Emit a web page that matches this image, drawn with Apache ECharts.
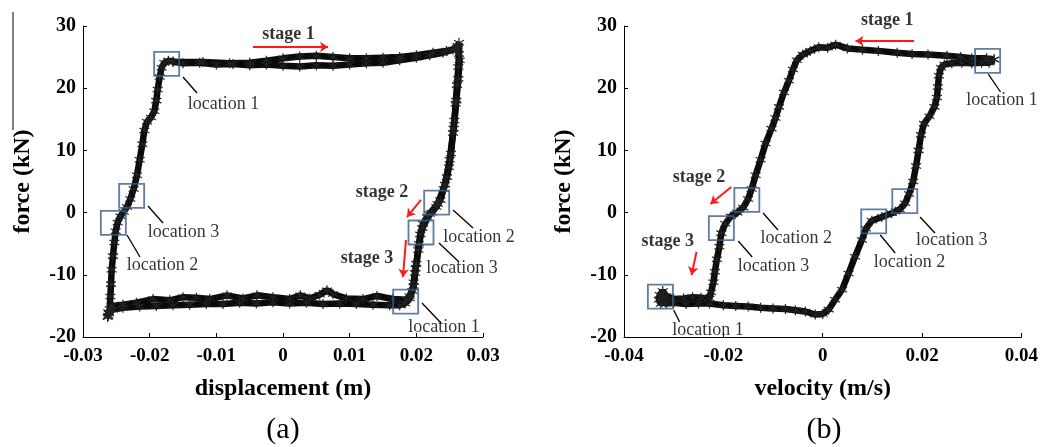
<!DOCTYPE html>
<html><head><meta charset="utf-8">
<script src="https://cdn.jsdelivr.net/npm/echarts@6/dist/echarts.min.js"></script>
<style>html,body{margin:0;padding:0;background:#fff}#c{width:1041px;height:447px}</style>
</head><body><div id="c"></div>
<script>
// ---------- DATA ----------
// (a) force vs displacement: main pass and second pass [displacement m, force kN]
const dispLoopA = [[-0.0262,-16.6],[-0.0260,-15.5],[-0.0259,-13.5],[-0.0258,-11.5],[-0.0257,-9.2],[-0.0255,-7.0],[-0.0253,-4.8],[-0.0251,-3.0],[-0.0248,-1.6],[-0.0244,-0.6],[-0.0239,0.1],[-0.0234,0.9],[-0.0229,2.2],[-0.0224,3.8],[-0.0219,6.0],[-0.0215,8.5],[-0.0211,11.0],[-0.0208,13.2],[-0.0204,14.6],[-0.0198,15.3],[-0.0193,16.3],[-0.0190,18.0],[-0.0188,19.8],[-0.0185,21.8],[-0.0182,23.3],[-0.0178,24.1],[-0.0172,24.4],[-0.0165,24.3],
[-0.015,24.0],[-0.0125,24.1],[-0.010,23.8],[-0.0075,23.9],[-0.005,23.7],[-0.0025,23.8],[0,23.6],[0.0025,23.5],[0.005,23.7],[0.0075,23.6],[0.010,23.8],[0.0125,24.0],[0.015,24.1],[0.0175,24.5],[0.020,24.9],[0.022,25.3],[0.024,25.7],[0.0255,26.2],[0.0262,26.8],[0.0264,27.3],
[0.0264,25.5],[0.0263,23.4],[0.0261,20.5],[0.0259,17.5],[0.0257,14.8],[0.0255,12.8],[0.0252,9.5],[0.0249,7.3],[0.0246,5.7],[0.0241,3.8],[0.0236,2.0],[0.0230,0.9],[0.0223,0.0],[0.0216,-0.7],[0.0210,-1.8],[0.0206,-3.5],[0.0203,-6.0],[0.0200,-8.2],[0.0198,-9.7],[0.0196,-11.2],[0.0194,-12.6],[0.0190,-13.8],[0.0183,-14.6],[0.0175,-14.9],
[0.016,-14.9],[0.0135,-14.8],[0.011,-14.7],[0.0085,-14.6],[0.006,-14.7],[0.0035,-14.5],[0.001,-14.6],[-0.0015,-14.4],[-0.004,-14.6],[-0.0065,-14.5],[-0.009,-14.7],[-0.0115,-14.7],[-0.014,-14.8],[-0.0165,-14.9],[-0.019,-15.0],[-0.0215,-15.1],[-0.024,-15.3],[-0.0255,-15.6],[-0.0262,-16.0],[-0.0263,-16.8]];
const dispLoopB = [[-0.0165,24.2],[-0.012,24.2],[-0.008,24.0],[-0.005,24.1],[-0.0025,24.4],[0,24.8],[0.0025,25.1],[0.005,25.2],[0.0075,25.0],[0.010,24.8],[0.0125,24.8],[0.015,24.9],[0.0175,25.0],[0.020,25.3],[0.0225,25.7],[0.0245,26.0],[0.0262,26.4],
[0.0265,24.5],[0.0263,21.5],[0.0260,18.0],[0.0256,13.5],[0.0250,8.5],[0.0243,4.5],[0.0232,1.4],[0.0220,-0.2],[0.0209,-2.5],[0.0204,-5.0],[0.0199,-9.0],[0.0196,-11.8],[0.0190,-13.4],
[0.0185,-14.0],[0.0165,-13.9],[0.0141,-13.4],[0.012,-13.9],[0.0095,-13.8],[0.0075,-13.1],[0.0066,-12.5],[0.0055,-13.2],[0.0040,-13.8],[0.0026,-13.3],[0.0010,-13.9],[-0.0015,-13.6],[-0.0039,-13.3],[-0.006,-13.8],[-0.0084,-13.3],[-0.011,-13.9],[-0.013,-13.7],[-0.015,-13.6],[-0.017,-14.1],[-0.0195,-13.9],[-0.022,-14.5],[-0.024,-14.8],[-0.0257,-15.0],[-0.0261,-16.2]];
// (b) force vs velocity [velocity m/s, force kN]
const velLoop = [[0.0345,24.6],[0.033,24.8],[0.030,24.8],[0.0278,25.0],[0.025,25.2],[0.0212,25.4],[0.018,25.5],[0.015,25.7],[0.0112,26.0],[0.008,26.2],[0.005,26.4],[0.0026,27.0],[0.001,26.5],[-0.0008,26.6],[-0.0025,26.0],[-0.004,25.4],[-0.0052,24.5],[-0.006,23.0],[-0.0068,21.2],[-0.0078,19.3],[-0.0088,17.0],[-0.0095,15.2],[-0.0103,13.5],[-0.0115,11.1],[-0.0125,8.5],[-0.0135,6.0],[-0.0143,3.8],[-0.0150,2.2],[-0.0160,0.8],[-0.0172,0.0],[-0.0185,-0.6],[-0.0196,-1.8],[-0.0204,-3.3],[-0.0208,-5.5],[-0.0213,-7.5],[-0.0217,-9.5],[-0.0220,-11.2],[-0.0225,-12.8],[-0.0228,-13.8],
[-0.0245,-13.7],[-0.0262,-13.6],[-0.028,-13.8],[-0.030,-13.9],[-0.0315,-13.4],[-0.0322,-12.6],[-0.0328,-13.2],[-0.0330,-14.0],[-0.0326,-14.7],[-0.0318,-14.3],[-0.0322,-13.6],[-0.0315,-14.6],
[-0.030,-14.5],[-0.0275,-14.7],[-0.025,-14.6],[-0.0228,-14.6],[-0.020,-14.9],[-0.0175,-15.0],[-0.015,-15.1],[-0.0125,-15.3],[-0.0100,-15.4],[-0.0075,-15.5],[-0.0055,-15.7],[-0.0035,-15.9],[-0.0015,-16.4],[0.0,-16.3],[0.0012,-15.6],[0.0025,-14.0],[0.0039,-12.4],[0.0052,-9.8],[0.0065,-7.1],[0.0079,-4.4],[0.0087,-2.6],[0.0099,-1.3],[0.0119,-0.7],[0.0139,-0.1],[0.0155,0.5],[0.0166,1.5],[0.0174,3.0],[0.0182,5.0],[0.0188,7.5],[0.0193,10.0],[0.0198,12.5],[0.0204,14.3],[0.0215,15.5],[0.0225,17.0],[0.0230,18.5],[0.0232,20.2],[0.0234,22.0],[0.0238,23.3],[0.0245,23.8],[0.026,24.0],[0.028,24.1],[0.030,24.0],[0.032,24.1],[0.0335,24.1],[0.0345,24.6]];

const xTicksA = [-0.03,-0.02,-0.01,0,0.01,0.02,0.03];
const xTicksB = [-0.04,-0.02,0,0.02,0.04];
const yTicks = [-20,-10,0,10,20,30];

// annotation boxes (data coords)
const boxesA = [[-0.01745,23.9],[-0.0227,2.67],[-0.02545,-1.67],[0.02305,1.6],[0.0207,-3.2],[0.0184,-14.3]];
const boxesB = [[0.0332,24.4],[-0.01527,2.03],[-0.0204,-2.5],[0.01027,-1.4],[0.01653,1.86],[-0.03267,-13.5]];
// location labels [x, y, text]
const locLabelsA = [[-0.00892,17.46,'location 1'],[-0.01492,-3.12,'location 3'],[-0.01807,-8.42,'location 2'],[0.0294,-3.92,'location 2'],[0.02685,-8.91,'location 3'],[0.02415,-18.39,'location 1']];
const locLabelsB = [[0.0361,18.1,'location 1'],[-0.0053,-4.08,'location 2'],[-0.0099,-8.59,'location 3'],[0.0175,-7.94,'location 2'],[0.026,-4.41,'location 3'],[-0.0231,-18.87,'location 1']];
// leader lines
const leadersA = [[[-0.0150,21.8],[-0.0129,19.23]],[[-0.02025,1.06],[-0.0180,-1.67]],[[-0.0234,-3.6],[-0.02145,-7.14]],[[0.0255,0.42],[0.0285,-2.48]],[[0.0234,-4.89],[0.0264,-7.94]],[[0.02085,-14.53],[0.0237,-17.75]]];
const leadersB = [[[0.03334,22.28],[0.0358,19.39]],[[-0.012,-0.06],[-0.009,-2.8]],[[-0.017,-4.57],[-0.0142,-7.14]],[[0.0116,-3.6],[0.0146,-6.5]],[[0.0196,-0.71],[0.0226,-3.28]],[[-0.03,-15.66],[-0.0288,-17.59]]];
// stage labels and arrows
const stageLabelsA = [[0.000825,28.71,'stage 1'],[0.01485,3.31,'stage 2'],[0.0126,-7.3,'stage 3']];
const stageLabelsB = [[0.013,30.96,'stage 1'],[-0.0249,5.72,'stage 2'],[-0.0312,-4.57,'stage 3']];
const arrowsA = [[[-0.0045,26.62],[0.00675,26.62]],[[0.0207,2.03],[0.0186,-0.71]],[[0.01845,-4.41],[0.0180,-10.35]]];
const arrowsB = [[[0.0184,27.59],[0.0066,27.59]],[[-0.0184,4.12],[-0.0226,1.38]],[[-0.0254,-6.33],[-0.0264,-10.03]]];

// ---------- CHART ----------
const SERIF = '"Liberation Serif", "Times New Roman", serif';
const STAR = 'path://M0,-10L0,10M-8.66,-5L8.66,5M-8.66,5L8.66,-5';
const chart = echarts.init(document.getElementById('c'), null, {renderer: 'canvas'});

function fmtX(v){ const r = Math.round(v*100)/100; return r === 0 ? '0' : String(r); }
function xAxis(idx, min, max, interval, name){
  return {type:'value', gridIndex: idx, min, max, interval,
    name, nameLocation:'middle', nameGap: 40,
    nameTextStyle:{fontFamily:SERIF, fontWeight:'bold', fontSize:24, color:'#000'},
    axisLine:{show:true, onZero:false, lineStyle:{color:'#000', width:1}},
    axisTick:{show:true, inside:true, length:4, lineStyle:{color:'#000'}},
    axisLabel:{fontFamily:SERIF, fontWeight:'bold', fontSize:19, color:'#000', margin:10, formatter: fmtX, showMinLabel:true, showMaxLabel:true},
    splitLine:{show:false}};
}
function yAxis(idx){
  return {type:'value', gridIndex: idx, min:-20, max:30, interval:10,
    name:'force (kN)', nameLocation:'middle', nameGap: 48,
    nameTextStyle:{fontFamily:SERIF, fontWeight:'bold', fontSize:24, color:'#000'},
    axisLine:{show:true, onZero:false, lineStyle:{color:'#000', width:1}},
    axisTick:{show:true, inside:true, length:4, lineStyle:{color:'#000'}},
    axisLabel:{fontFamily:SERIF, fontWeight:'bold', fontSize:20, color:'#000', margin:7},
    splitLine:{show:false}};
}
function loopSeries(idx, data){
  return {type:'line', xAxisIndex: idx, yAxisIndex: idx, data, z: 2,
    symbol: STAR, symbolSize: 10, showSymbol: true, showAllSymbol: true,
    itemStyle:{color:'#000', borderColor:'#222', borderWidth:1.2},
    lineStyle:{color:'#0a0a0a', width:6.5}, animation:false, silent:true, clip:false};
}
function boxSeries(idx, data){
  return {type:'scatter', xAxisIndex: idx, yAxisIndex: idx, data, z: 5,
    symbol:'rect', symbolSize:[25,24],
    itemStyle:{color:'rgba(0,0,0,0)', borderColor:'#3a5c8e', borderWidth:1.8},
    animation:false, silent:true, clip:false};
}
function lineSeries(idx, segs, color, width, arrow){
  return {type:'lines', coordinateSystem:'cartesian2d', xAxisIndex: idx, yAxisIndex: idx, z: 6,
    data: segs.map(s => ({coords: s})),
    symbol: arrow ? ['none','arrow'] : ['none','none'], symbolSize: 8,
    lineStyle:{color, width, opacity:1, curveness:0}, animation:false, silent:true, clip:false};
}
function textSeries(idx, items, bold){
  return {type:'scatter', xAxisIndex: idx, yAxisIndex: idx, z: 7,
    data: items.map(d => ({value:[d[0], d[1]], name: d[2]})),
    symbolSize: 0,
    label:{show:true, position:'inside', formatter: p => p.name, fontFamily:SERIF,
      fontSize:18, fontWeight: bold ? 'bold' : 'normal', color:'#000', textBorderWidth:0},
    animation:false, silent:true, clip:false};
}

chart.setOption({
  animation:false,
  backgroundColor:'#fff',
  grid:[
    {left:83, top:26, width:400, height:311},
    {left:624, top:26, width:400, height:311}
  ],
  xAxis:[ xAxis(0, -0.03, 0.03, 0.01, 'displacement (m)'), xAxis(1, -0.04, 0.04, 0.02, 'velocity (m/s)') ],
  yAxis:[ yAxis(0), yAxis(1) ],
  series:[
    loopSeries(0, dispLoopA), loopSeries(0, dispLoopB), loopSeries(1, velLoop),
    boxSeries(0, boxesA), boxSeries(1, boxesB),
    lineSeries(0, leadersA, '#000', 1.3, false), lineSeries(1, leadersB, '#000', 1.3, false),
    lineSeries(0, arrowsA, '#ff1a1a', 2, true), lineSeries(1, arrowsB, '#ff1a1a', 2, true),
    textSeries(0, locLabelsA, false), textSeries(1, locLabelsB, false),
    textSeries(0, stageLabelsA, true), textSeries(1, stageLabelsB, true)
  ],
  graphic:[
    {type:'line', shape:{x1:13, y1:12, x2:13, y2:130}, style:{stroke:'#000', lineWidth:1}, silent:true},
    {type:'text', x:283, y:430, style:{text:'(a)', font:'30px '+SERIF, fill:'#000', textAlign:'center', textVerticalAlign:'middle'}},
    {type:'text', x:824, y:430, style:{text:'(b)', font:'30px '+SERIF, fill:'#000', textAlign:'center', textVerticalAlign:'middle'}}
  ]
});
</script>
</body></html>
